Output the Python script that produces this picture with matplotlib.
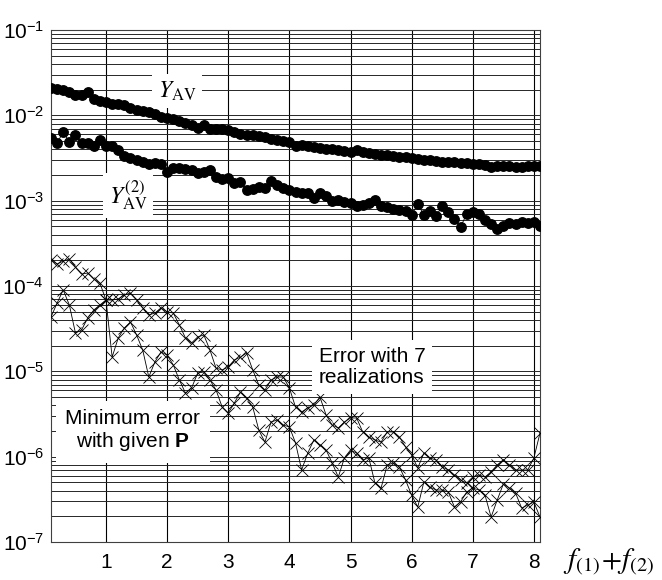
# plot.py
"""Averaged error curves vs f(1)+f(2) on a log scale."""
import numpy as np
import matplotlib

matplotlib.use("Agg")
import matplotlib.pyplot as plt  # noqa: E402
from matplotlib.ticker import LogLocator, NullFormatter  # noqa: E402

plt.rcParams["font.family"] = ["Liberation Sans", "DejaVu Sans"]
plt.rcParams["mathtext.fontset"] = "custom"
plt.rcParams["mathtext.rm"] = "Liberation Sans"
plt.rcParams["mathtext.bf"] = "Liberation Sans:bold"
plt.rcParams["mathtext.it"] = "Liberation Sans:italic"

# shared abscissa f(1)+f(2)
X = [0.1, 0.2, 0.3, 0.4, 0.5, 0.6, 0.7, 0.8, 0.9, 1.0,
     1.1, 1.2, 1.3, 1.4, 1.5, 1.6, 1.7, 1.8, 1.9, 2.0,
     2.1, 2.2, 2.3, 2.4, 2.5, 2.6, 2.7, 2.8, 2.9, 3.0,
     3.1, 3.2, 3.3, 3.4, 3.5, 3.6, 3.7, 3.8, 3.9, 4.0,
     4.1, 4.2, 4.3, 4.4, 4.5, 4.6, 4.7, 4.8, 4.9, 5.0,
     5.1, 5.2, 5.3, 5.4, 5.5, 5.6, 5.7, 5.8, 5.9, 6.0,
     6.1, 6.2, 6.3, 6.4, 6.5, 6.6, 6.7, 6.8, 6.9, 7.0,
     7.1, 7.2, 7.3, 7.4, 7.5, 7.6, 7.7, 7.8, 7.9, 8.0, 8.1]

Y_AV = [2.09e-2, 2.04e-2, 1.98e-2, 1.88e-2, 1.73e-2, 1.73e-2, 1.88e-2, 1.55e-2, 1.47e-2, 1.43e-2,
        1.36e-2, 1.36e-2, 1.32e-2, 1.22e-2, 1.15e-2, 1.12e-2, 1.09e-2, 1.04e-2, 9.55e-3, 9.30e-3,
        9.05e-3, 8.59e-3, 8.13e-3, 7.71e-3, 7.11e-3, 7.71e-3, 6.92e-3, 6.92e-3, 6.92e-3, 6.73e-3,
        6.38e-3, 6.04e-3, 5.88e-3, 5.88e-3, 5.73e-3, 5.57e-3, 5.28e-3, 5.14e-3, 5.00e-3, 4.87e-3,
        4.38e-3, 4.49e-3, 4.38e-3, 4.26e-3, 4.14e-3, 4.03e-3, 4.03e-3, 3.93e-3, 3.82e-3, 3.72e-3,
        3.93e-3, 3.72e-3, 3.62e-3, 3.52e-3, 3.43e-3, 3.43e-3, 3.34e-3, 3.25e-3, 3.25e-3, 3.16e-3,
        3.08e-3, 3.00e-3, 3.00e-3, 2.92e-3, 2.84e-3, 2.84e-3, 2.84e-3, 2.76e-3, 2.76e-3, 2.69e-3,
        2.69e-3, 2.62e-3, 2.48e-3, 2.55e-3, 2.55e-3, 2.55e-3, 2.48e-3, 2.48e-3, 2.55e-3, 2.55e-3, 2.55e-3]

Y_AV2 = [5.42e-3, 4.74e-3, 6.38e-3, 4.87e-3, 5.88e-3, 4.74e-3, 4.74e-3, 4.38e-3, 5.14e-3, 4.38e-3,
         4.38e-3, 3.93e-3, 3.34e-3, 3.16e-3, 3.00e-3, 2.84e-3, 2.69e-3, 2.76e-3, 2.69e-3, 2.17e-3,
         2.41e-3, 2.41e-3, 2.35e-3, 2.29e-3, 2.11e-3, 2.17e-3, 2.29e-3, 1.89e-3, 1.79e-3, 1.84e-3,
         1.61e-3, 1.66e-3, 1.33e-3, 1.37e-3, 1.45e-3, 1.41e-3, 1.70e-3, 1.53e-3, 1.41e-3, 1.33e-3,
         1.26e-3, 1.23e-3, 1.23e-3, 1.07e-3, 1.23e-3, 1.13e-3, 9.91e-4, 1.02e-3, 9.64e-4, 9.39e-4,
         8.66e-4, 8.89e-4, 9.39e-4, 1.02e-3, 8.66e-4, 8.43e-4, 7.98e-4, 7.78e-4, 7.57e-4, 6.79e-4,
         9.14e-4, 6.79e-4, 7.57e-4, 6.61e-4, 8.66e-4, 7.36e-4, 6.10e-4, 4.91e-4, 6.98e-4, 7.36e-4,
         6.98e-4, 5.93e-4, 5.33e-4, 4.66e-4, 5.05e-4, 5.47e-4, 5.33e-4, 5.62e-4, 5.47e-4, 5.62e-4, 5.05e-4]

ERR_A = [2.02e-4, 1.81e-4, 1.96e-4, 2.07e-4, 1.67e-4, 1.38e-4, 1.42e-4, 1.21e-4, 1.08e-4, 6.85e-5,
         1.47e-5, 2.46e-5, 3.22e-5, 3.79e-5, 2.67e-5, 1.78e-5, 8.58e-6, 1.29e-5, 1.69e-5, 1.55e-5,
         1.19e-5, 7.91e-6, 5.57e-6, 6.38e-6, 9.56e-6, 9.82e-6, 7.91e-6, 6.04e-6, 3.82e-6, 3.25e-6,
         4.26e-6, 5.73e-6, 4.87e-6, 3.82e-6, 2.05e-6, 1.48e-6, 2.55e-6, 2.69e-6, 2.35e-6, 2.23e-6,
         1.45e-6, 6.98e-7, 1.10e-6, 1.57e-6, 1.37e-6, 1.20e-6, 8.43e-7, 5.78e-7, 9.65e-7, 1.20e-6,
         1.10e-6, 9.14e-7, 9.65e-7, 4.91e-7, 4.29e-7, 7.99e-7, 8.43e-7, 7.57e-7, 5.33e-7, 3.55e-7,
         2.57e-7, 5.05e-7, 4.41e-7, 4.07e-7, 4.07e-7, 3.85e-7, 2.57e-7, 2.94e-7, 3.85e-7, 4.29e-7,
         4.07e-7, 3.55e-7, 1.96e-7, 3.10e-7, 4.78e-7, 4.29e-7, 3.75e-7, 2.50e-7, 2.71e-7, 2.94e-7, 1.96e-7]

ERR_B = [4.33e-5, 6.32e-5, 8.98e-5, 5.99e-5, 2.81e-5, 3.05e-5, 4.22e-5, 5.23e-5, 5.99e-5, 6.85e-5,
         6.85e-5, 7.04e-5, 7.84e-5, 8.28e-5, 6.85e-5, 5.52e-5, 4.57e-5, 4.83e-5, 5.52e-5, 4.96e-5,
         4.83e-5, 3.49e-5, 2.46e-5, 2.15e-5, 2.53e-5, 2.67e-5, 1.78e-5, 1.09e-5, 1.04e-5, 1.12e-5,
         1.36e-5, 1.47e-5, 1.64e-5, 1.04e-5, 6.92e-6, 6.04e-6, 7.91e-6, 8.58e-6, 8.58e-6, 6.38e-6,
         3.82e-6, 3.34e-6, 3.72e-6, 4.03e-6, 5.00e-6, 3.08e-6, 2.35e-6, 2.17e-6, 2.55e-6, 2.84e-6,
         2.84e-6, 1.95e-6, 1.70e-6, 1.57e-6, 1.48e-6, 1.95e-6, 1.95e-6, 1.70e-6, 1.30e-6, 1.05e-6,
         7.36e-7, 1.10e-6, 9.65e-7, 9.14e-7, 7.57e-7, 6.98e-7, 6.10e-7, 5.33e-7, 4.91e-7, 5.78e-7,
         6.10e-7, 5.78e-7, 6.61e-7, 7.99e-7, 9.14e-7, 7.99e-7, 6.98e-7, 6.98e-7, 6.98e-7, 9.65e-7, 1.89e-6]

X_TICKS = [1, 2, 3, 4, 5, 6, 7, 8]
Y_TICKS = [1e-7, 1e-6, 1e-5, 1e-4, 1e-3, 1e-2, 1e-1]
Y_TICK_LABELS = [r"$\mathregular{10^{-7}}$", r"$\mathregular{10^{-6}}$", r"$\mathregular{10^{-5}}$",
                 r"$\mathregular{10^{-4}}$", r"$\mathregular{10^{-3}}$", r"$\mathregular{10^{-2}}$",
                 r"$\mathregular{10^{-1}}$"]


def main():
    fig = plt.figure(figsize=(6.62, 5.8), dpi=100)
    ax = fig.add_axes([51 / 662, 1 - 542 / 580, 489 / 662, 512 / 580])

    ax.set_yscale("log")
    ax.set_xlim(0.1, 8.1)
    ax.set_ylim(1e-7, 1e-1)

    ax.set_xticks(X_TICKS)
    ax.set_xticklabels([str(t) for t in X_TICKS])
    ax.set_yticks(Y_TICKS)
    ax.set_yticklabels(Y_TICK_LABELS)
    ax.yaxis.set_minor_locator(LogLocator(base=10, subs=np.arange(2, 10)))
    ax.yaxis.set_minor_formatter(NullFormatter())
    ax.tick_params(axis="both", which="both", length=0, labelsize=15)
    ax.tick_params(axis="x", pad=8)
    ax.tick_params(axis="y", pad=5)

    ax.grid(True, which="major", axis="x", color="black", lw=0.8)
    ax.grid(True, which="both", axis="y", color="0.15", lw=0.7)
    ax.set_axisbelow(True)
    for spine in ax.spines.values():
        spine.set_linewidth(0.8)
        spine.set_color("0.25")

    ax.plot(X, Y_AV, "-o", color="black", lw=0.6, ms=6.8, zorder=3)
    ax.plot(X, Y_AV2, "-o", color="black", lw=0.6, ms=6.8, zorder=3)
    ax.plot(X, ERR_A, "-x", color="black", lw=0.6, ms=8.5, mew=0.6, zorder=3)
    ax.plot(X, ERR_B, "-x", color="black", lw=0.6, ms=8.5, mew=0.6, zorder=3)

    box = dict(facecolor="white", edgecolor="none", pad=4)
    ax.text(2.16, 1.93e-2, r"$Y_{\mathrm{AV}}$", fontsize=17, ha="center", va="center",
            math_fontfamily="stix", bbox=box, zorder=5)
    ax.text(1.36, 1.16e-3, r"$Y_{\mathrm{AV}}^{(2)}$", fontsize=17, ha="center", va="center",
            math_fontfamily="stix", bbox=box, zorder=5)
    ax.text(5.35, 1.12e-5, "Error with 7\nrealizations", fontsize=15, ha="center",
            va="center", linespacing=1.15, bbox=dict(facecolor="white", edgecolor="none", pad=5),
            zorder=5)
    ax.text(1.44, 2.0e-6, "Minimum error\nwith given " + r"$\mathbf{P}$", fontsize=15,
            ha="center", va="center", linespacing=1.1,
            bbox=dict(facecolor="white", edgecolor="none", pad=7), zorder=5)

    # axis label f(1)+f(2) at the lower right, beside the last tick
    fig.text(563 / 662, 1 - 562 / 580, r"$f_{(1)}\!+\!f_{(2)}$", fontsize=21, ha="left",
             va="center", math_fontfamily="stix")

    fig.savefig("out.png", dpi=100)


if __name__ == "__main__":
    main()
